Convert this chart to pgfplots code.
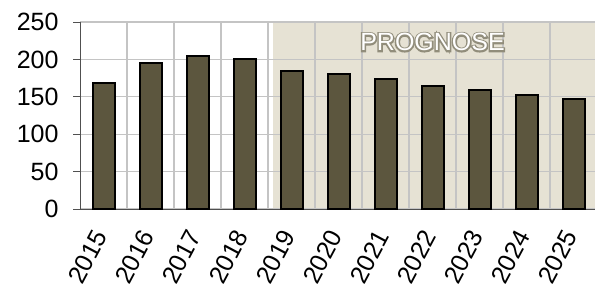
\documentclass[border=0pt]{standalone}
\usepackage{pgfplots}
\pgfplotsset{compat=1.18}
\usepackage{fontspec}
\setmainfont{Liberation Sans}
\newfontfamily\glowfont[FakeBold=12]{Liberation Sans}
\definecolor{barfill}{RGB}{92,86,62}
\definecolor{prog}{RGB}{230,226,212}
\definecolor{gridc}{RGB}{196,196,196}
\definecolor{axc}{RGB}{80,80,80}
\definecolor{glow}{RGB}{145,141,123}
\begin{document}
\begin{tikzpicture}
\begin{axis}[
  at={(80pt,77pt)}, anchor=south west,
  scale only axis, width=515pt, height=187pt,
  xmin=-0.5, xmax=10.457, ymin=0, ymax=250,
  set layers,
  ybar, bar width=22pt,
  xtick={0,1,...,10},
  xticklabels={2015,2016,2017,2018,2019,2020,2021,2022,2023,2024,2025},
  minor xtick={0.5,1.5,...,9.5},
  xminorgrids,
  ytick={0,50,...,250}, ymajorgrids,
  major grid style={gridc, line width=1.2pt},
  minor grid style={gridc, line width=1.2pt},
  axis x line*=bottom, axis y line*=left,
  axis line style={-, axc, line width=0.9pt},
  tick align=outside, major tick length=7pt, minor tick length=0pt,
  ytick style={axc, line width=0.9pt},
  xtick style={draw=none},
  /pgf/number format/assume math mode=true,
  tick label style={font=\fontsize{25}{30}\selectfont},
  yticklabel style={xshift=-11pt},
  xticklabel style={yshift=-16pt, xshift=-2.5pt, rotate=62, anchor=east, inner sep=0pt},
  clip=false,
]
\begin{pgfonlayer}{axis background}
\fill[prog] (axis cs:3.6,0) rectangle (axis cs:10.457,250);
\end{pgfonlayer}
\addplot[fill=barfill, draw=black, line width=2pt] coordinates {
(0,168) (1,195) (2,204) (3,201) (4,184.5) (5,180) (6,173.5) (7,165) (8,159) (9,153) (10,146.5)};
\node[text=glow, font=\glowfont\fontsize{25}{30}\selectfont] at (axis cs:7,223) {PROGNOSE};
\node[text=white, font=\fontsize{25}{30}\selectfont] at (axis cs:7,223) {PROGNOSE};
\end{axis}
\pgfresetboundingbox
\path (0pt,0pt) rectangle (595pt,286pt);
\end{tikzpicture}
\end{document}
